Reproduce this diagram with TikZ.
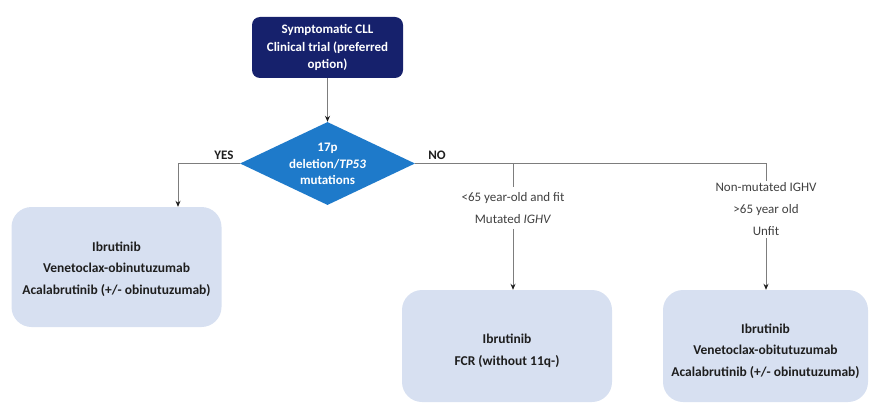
\documentclass[tikz,border=0pt]{standalone}
\usepackage{fontspec}
\setmainfont{Carlito}
\usetikzlibrary{shapes.geometric,arrows.meta}
\definecolor{navy}{RGB}{22,33,108}
\definecolor{diablue}{RGB}{30,122,202}
\definecolor{boxfill}{RGB}{215,224,241}
\definecolor{linegrey}{RGB}{125,125,125}
\definecolor{txtdark}{RGB}{30,30,30}
\begin{document}
\begin{tikzpicture}[x=1pt,y=-1pt,
  topbox/.style={draw=none,fill=navy,rounded corners=8pt,minimum width=151pt,minimum height=61pt,
    text=white,align=center,inner sep=0pt,font=\fontsize{13}{17}\selectfont\bfseries},
  diashape/.style={shape=diamond,fill=diablue,draw=none,minimum width=175pt,minimum height=83pt,inner sep=0pt},
  diatext/.style={text=white,align=center,inner sep=0pt,font=\fontsize{13}{16.5}\selectfont\bfseries},
  resbox/.style={fill=boxfill,draw=none,rounded corners=20pt,inner sep=0pt},
  restext/.style={text=txtdark,align=center,inner sep=0pt,font=\fontsize{13.5}{21.5}\selectfont\bfseries},
  cond/.style={text=txtdark!85,align=center,inner xsep=2pt,font=\fontsize{13}{22}\selectfont},
  yn/.style={text=txtdark,inner sep=0pt,font=\fontsize{13}{14}\selectfont\bfseries},
  conn/.style={draw=linegrey,line width=0.9pt},
  arr/.style={conn,-{Stealth[length=6pt,width=5pt,color=txtdark]}}
]
\useasboundingbox (0,0) rectangle (869,406);

\node[topbox] (top) at (327.5,47.5) {Symptomatic CLL\\[1.5pt]Clinical trial (preferred\\option)};
\node[diashape] (dia) at (327.5,163.5) {};
\node[diatext] (diat) at (327.5,164) {17p\\deletion/\textit{TP53}\\mutations};

\node[resbox,minimum width=210pt,minimum height=120pt] (lbox) at (116.5,267) {};
\node[restext] (ltext) at (116.5,269) {Ibrutinib\\Venetoclax-obinutuzumab\\Acalabrutinib (+/- obinutuzumab)};
\node[resbox,minimum width=210pt,minimum height=112pt] (mbox) at (507,346) {};
\node[restext] (mtext) at (507,351) {Ibrutinib\\[1pt]FCR (without 11q-)};
\node[resbox,minimum width=205pt,minimum height=112pt] (rbox) at (765.5,346) {};
\node[restext] (rtext) at (765.5,351) {Ibrutinib\\Venetoclax-obitutuzumab\\Acalabrutinib (+/- obinutuzumab)};

\node[yn] (yes) at (224,155) {YES};
\node[yn] (no) at (437,155) {NO};

\node[cond,inner ysep=5pt] (mlbl) at (513,208) {<65 year-old and fit\\Mutated \textit{IGHV}};
\node[cond,inner ysep=2pt] (rlbl) at (766,209.5) {Non-mutated IGHV\\>65 year old\\Unfit};

\coordinate (lcorner) at (178,163.5);
\coordinate (mtap) at (513,163.5);
\coordinate (rcorner) at (766,163.5);

\draw[arr] (top.south) -- (dia.north);
\draw[arr] (dia.west) -- (lcorner) -- (lcorner |- lbox.north);
\draw[conn] (dia.east) -- (rcorner) -- (rlbl.north);
\draw[conn] (mtap) -- (mlbl.north);
\draw[arr] (mlbl.south) -- (mlbl.south |- mbox.north);
\draw[arr] (rlbl.south) -- (rlbl.south |- rbox.north);
\end{tikzpicture}
\end{document}
